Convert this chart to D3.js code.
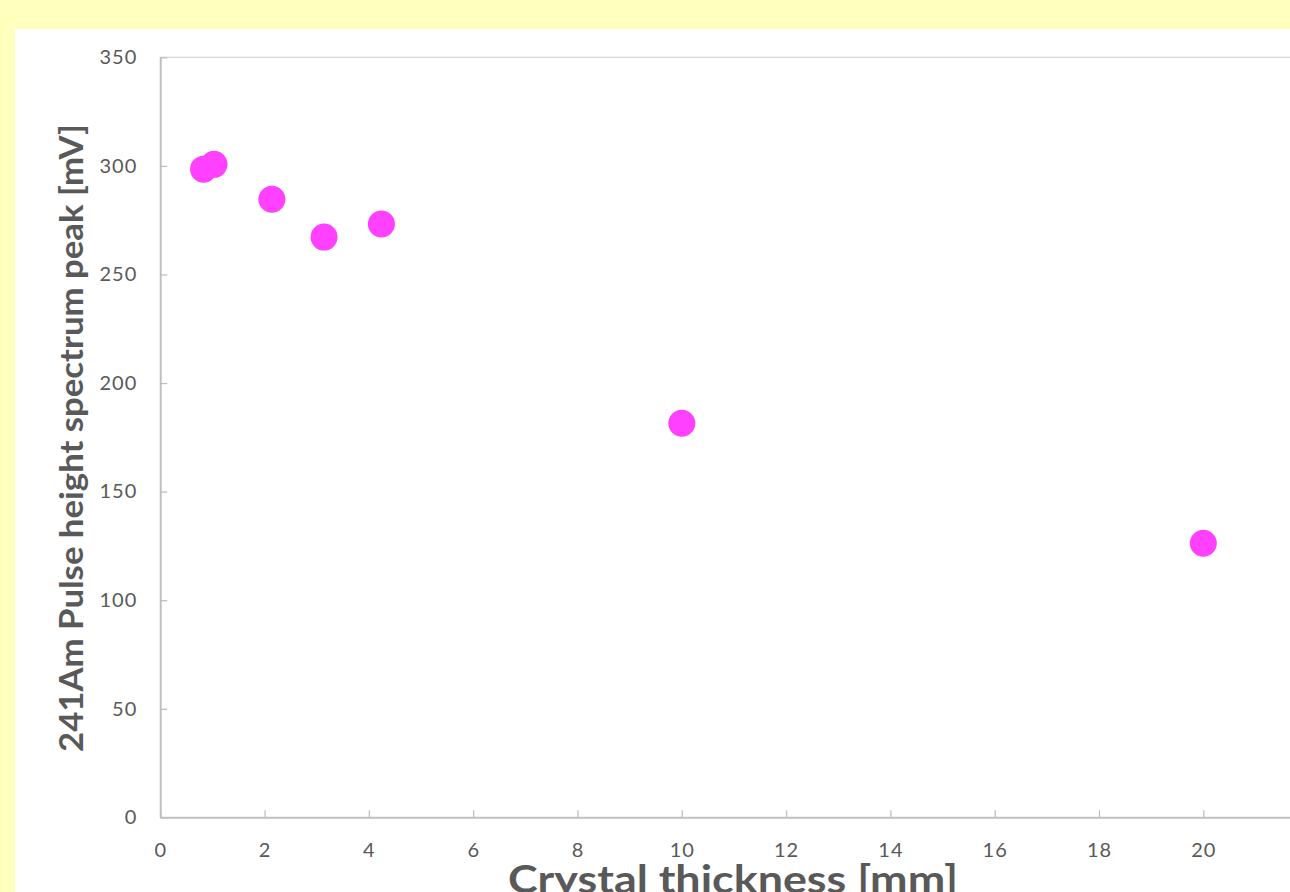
<!DOCTYPE html>
<html>
<head>
<meta charset="utf-8">
<script src="https://cdn.jsdelivr.net/npm/d3@7"></script>
<style>
html,body{margin:0;padding:0;background:#FFFFBE;overflow:hidden;}
svg{display:block;}
</style>
</head>
<body>
<script>
// Data
const thickness = [0.83, 1.03, 2.14, 3.14, 4.24, 10, 20];
const peakMV    = [298.5, 300.7, 284.6, 267.2, 273.2, 181.5, 126.2];
const xTicks = [0, 2, 4, 6, 8, 10, 12, 14, 16, 18, 20];
const yTicks = [0, 50, 100, 150, 200, 250, 300, 350];
const xTitle = "Crystal thickness [mm]";
const yTitle = "241Am Pulse height spectrum peak [mV]";

const W = 1290, H = 892;
const svg = d3.select("body").append("svg").attr("width", W).attr("height", H);

svg.append("rect").attr("x", 0).attr("y", 0).attr("width", W).attr("height", H).attr("fill", "#FFFFBE");
svg.append("rect").attr("x", 15).attr("y", 29).attr("width", W).attr("height", H).attr("fill", "#FFFFFF");

const x = d3.scaleLinear().domain([0, 22]).range([160.3, 1307.6]);
const y = d3.scaleLinear().domain([0, 350]).range([817.3, 57.3]);

// plot border
svg.append("rect")
  .attr("x", x(0)).attr("y", y(350))
  .attr("width", x(22) - x(0)).attr("height", y(0) - y(350))
  .attr("fill", "none").attr("stroke", "#D9D9D9").attr("stroke-width", 1.3);

const font = "Lato, 'Open Sans', sans-serif";

const gx = svg.append("g").attr("transform", `translate(0,${y(0)})`)
  .call(d3.axisBottom(x).tickValues(xTicks).tickSizeInner(-7).tickSizeOuter(0).tickPadding(26).tickFormat(d3.format("d")));
const gy = svg.append("g").attr("transform", `translate(${x(0)},0)`)
  .call(d3.axisLeft(y).tickValues(yTicks).tickSizeInner(-7).tickSizeOuter(0).tickPadding(23).tickFormat(d3.format("d")));

[gx, gy].forEach(g => {
  g.select(".domain").attr("stroke", "#BFBFBF").attr("stroke-width", 1.8);
  g.selectAll(".tick line").attr("stroke", "#BFBFBF").attr("stroke-width", 1.3);
  g.selectAll(".tick text").attr("fill", "#595959").style("font-family", font).style("font-size", "20px").style("letter-spacing", "1px");
});

// points
svg.append("g").selectAll("circle")
  .data(thickness.map((t, i) => [t, peakMV[i]]))
  .join("circle")
  .attr("cx", d => x(d[0])).attr("cy", d => y(d[1]))
  .attr("r", 13.5).attr("fill", "#FF40FF");

// titles
svg.append("text")
  .attr("x", 733).attr("y", 893)
  .attr("text-anchor", "middle")
  .attr("fill", "#595959")
  .style("font-family", font).style("font-weight", "bold").style("font-size", "39px")
  .attr("textLength", 450).attr("lengthAdjust", "spacingAndGlyphs")
  .text(xTitle);

svg.append("text")
  .attr("transform", `translate(83,438) rotate(-90)`)
  .attr("text-anchor", "middle")
  .attr("fill", "#595959")
  .style("font-family", font).style("font-weight", "bold").style("font-size", "33px")
  .attr("textLength", 628).attr("lengthAdjust", "spacingAndGlyphs")
  .text(yTitle);
</script>
</body>
</html>
